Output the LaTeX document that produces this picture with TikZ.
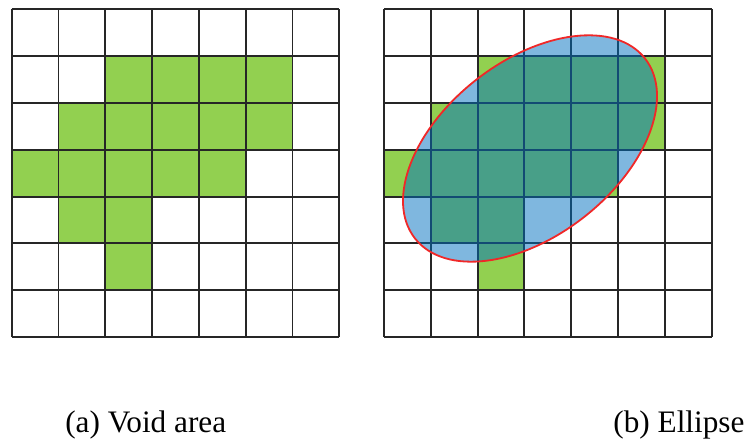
\documentclass[tikz,border=0pt]{standalone}
\usepackage{fontspec}
\setmainfont{Liberation Serif}
\usetikzlibrary{positioning,calc}
\definecolor{voidgreen}{HTML}{92D050}
\definecolor{fitblue}{HTML}{0070C0}
\definecolor{fitred}{HTML}{F02828}

\begin{document}
\begin{tikzpicture}[
  gridline/.style={draw=black!85, line width=1.2pt},
  voidcell/.style={fill=voidgreen},
  fitellipse/.style={fill=fitblue, fill opacity=0.5},
  rim/.style={draw=fitred, line width=1.1pt},
  caption/.style={anchor=base west, inner sep=0pt,
                  font=\fontsize{19}{23}\selectfont},
]
\useasboundingbox (0,0) rectangle (16.004,9.466);

% two 7x7 grids, same void cells (row from top / first col / last col)
\foreach \gx/\gname in {0.25/left,8.205/right}{
  \begin{scope}[shift={(\gx,2.265)}]
    \foreach \r/\from/\to in {1/2/5,2/1/5,3/0/4,4/1/2,5/2/2}
      \foreach \c in {\from,...,\to}
        \fill[voidcell] (\c,6-\r) rectangle ++(1,1);
    \draw[gridline] (0,0) grid (7,7);
    \coordinate (\gname nw) at (0,7);
  \end{scope}
}

% fitted ellipse over the right grid
\coordinate (ctr) at ($(rightnw)+(3.12,-2.972)$);
\fill[fitellipse, rotate around={38:(ctr)}]
  (ctr) ellipse [x radius=3.12, y radius=1.865];
\draw[rim, rotate around={38:(ctr)}]
  (ctr) ellipse [x radius=3.12, y radius=1.865];

\node[caption] (capa) at (1.389,0.235) {(a) Void area};
\node[caption] (capb) at (13.1,0.235) {(b) Ellipse};
\end{tikzpicture}
\end{document}
